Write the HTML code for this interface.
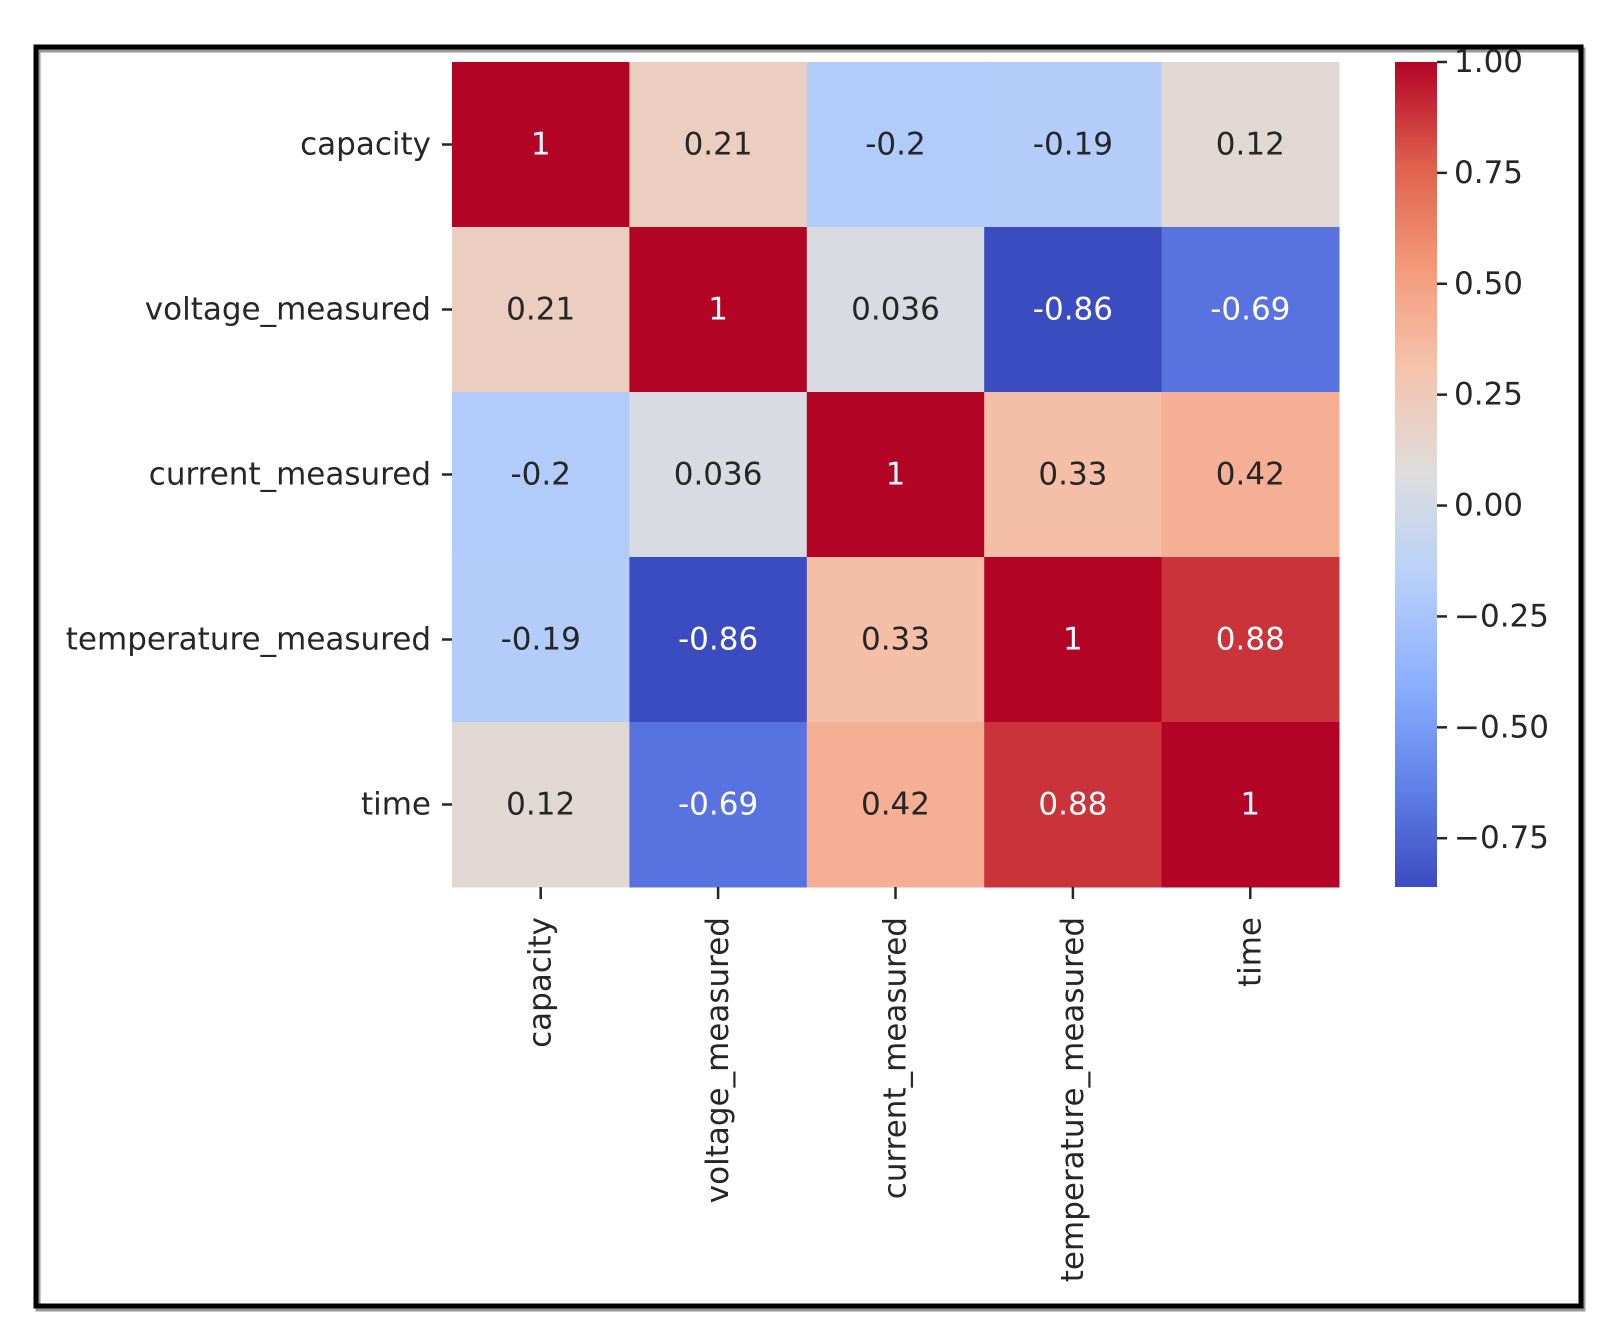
<!DOCTYPE html>
<html>
<head>
<meta charset="utf-8">
<style>
  html, body { margin:0; padding:0; background:#fff; }
  svg { display:block; }
  text { font-family: "DejaVu Sans", "Liberation Sans", sans-serif; }
</style>
</head>
<body>
<svg id="chart" width="1612" height="1341" viewBox="0 0 1612 1341" xmlns="http://www.w3.org/2000/svg">
  <defs>
    <linearGradient id="cbgrad" x1="0" y1="1" x2="0" y2="0"></linearGradient>
  </defs>
  <rect x="38" y="50" width="1545" height="1259" fill="none" stroke="#999" stroke-width="5"/>
  <rect x="36" y="47" width="1545" height="1259" fill="none" stroke="#000" stroke-width="5"/>
  <g id="cells"></g>
  <g id="labels"></g>
  <g id="cbar"></g>
</svg>
<script>
const categories = ["capacity", "voltage_measured", "current_measured", "temperature_measured", "time"];
const row0 = [1, 0.21, -0.2, -0.19, 0.12];
const row1 = [0.21, 1, 0.036, -0.86, -0.69];
const row2 = [-0.2, 0.036, 1, 0.33, 0.42];
const row3 = [-0.19, -0.86, 0.33, 1, 0.88];
const row4 = [0.12, -0.69, 0.42, 0.88, 1];
const matrix = [row0, row1, row2, row3, row4];
const cbarTicks = [1.0, 0.75, 0.5, 0.25, 0, -0.25, -0.5, -0.75];
const cbarTickLabels = ["1.00", "0.75", "0.50", "0.25", "0.00", "\u22120.25", "\u22120.50", "\u22120.75"];
const vmin = -0.86, vmax = 1.0;

const NS = "http://www.w3.org/2000/svg";
const L = 452, R = 1339, T = 62, B = 887;
const FS = 31;
const n = categories.length;
const cw = (R - L) / n, ch = (B - T) / n;
const xPos = i => L + i * cw;
const yPos = i => T + i * ch;
const CB_L = 1395, CB_R = 1437;
const cbY = v => T + (vmax - v) / (vmax - vmin) * (B - T);

const cmapStops = [
  [0.0, [59,76,192]], [0.125, [98,130,234]], [0.25, [141,176,254]], [0.375, [184,208,249]],
  [0.5, [221,221,221]], [0.625, [245,196,173]], [0.75, [244,154,123]], [0.875, [222,96,77]], [1.0, [180,4,38]]
];
function cmap(t) {
  t = Math.max(0, Math.min(1, t));
  for (let i = 0; i < cmapStops.length - 1; i++) {
    const [a, ca] = cmapStops[i], [b, cb] = cmapStops[i+1];
    if (t <= b) {
      const f = (t - a) / (b - a);
      return ca.map((c, k) => Math.round(c + f * (cb[k] - c)));
    }
  }
  return cmapStops[cmapStops.length-1][1];
}
const colorOf = v => cmap((v - vmin) / (vmax - vmin));
const rgb = c => `rgb(${c[0]},${c[1]},${c[2]})`;
function lum(c) {
  const f = x => { x /= 255; return x <= 0.03928 ? x / 12.92 : Math.pow((x + 0.055) / 1.055, 2.4); };
  return 0.2126 * f(c[0]) + 0.7152 * f(c[1]) + 0.0722 * f(c[2]);
}
function mk(tag, attrs, parent) {
  const e = document.createElementNS(NS, tag);
  for (const k in attrs) e.setAttribute(k, attrs[k]);
  parent.appendChild(e);
  return e;
}
const cells = document.getElementById("cells");
const labels = document.getElementById("labels");
const cbar = document.getElementById("cbar");

matrix.forEach((row, r) => {
  row.forEach((v, c) => {
    const col = colorOf(v);
    const rect = mk("rect", {x: xPos(c), y: yPos(r), width: cw + 0.5, height: ch + 0.5, fill: rgb(col)}, cells);
    
    
    const t = mk("text", {x: xPos(c) + cw/2, y: yPos(r) + ch/2, "text-anchor": "middle", "dominant-baseline": "central", "font-size": FS, fill: lum(col) < 0.408 ? "#ffffff" : "#262626"}, cells);
    t.textContent = String(v);
    
    
  });
});

categories.forEach((name, i) => {
  const cy = yPos(i) + ch/2;
  const tk = mk("line", {x1: 442, x2: 452, y1: cy, y2: cy, stroke: "#262626", "stroke-width": 2.5}, labels);
  
  
  const t = mk("text", {x: 431, y: cy, "text-anchor": "end", "dominant-baseline": "central", "font-size": FS, fill: "#262626"}, labels);
  t.textContent = name;
  
  

  const cx = xPos(i) + cw/2;
  const tk2 = mk("line", {x1: cx, x2: cx, y1: 887, y2: 899, stroke: "#262626", "stroke-width": 2.5}, labels);
  
  
  const t2 = mk("text", {x: 0, y: 0, transform: `translate(${cx},917) rotate(-90)`, "text-anchor": "end", "dominant-baseline": "central", "font-size": FS, fill: "#262626"}, labels);
  t2.textContent = name;
  
  
});

const grad = document.getElementById("cbgrad");
for (let i = 0; i <= 40; i++) {
  const t = i / 40;
  mk("stop", {offset: t, "stop-color": rgb(cmap(t))}, grad);
}
const cb = mk("rect", {x: CB_L, y: T, width: CB_R - CB_L, height: B - T, fill: "url(#cbgrad)"}, cbar);


cbarTicks.forEach((v, i) => {
  const y = cbY(v);
  const tk = mk("line", {x1: CB_R, x2: CB_R + 10, y1: y, y2: y, stroke: "#262626", "stroke-width": 2.5}, cbar);
  
  
  const t = mk("text", {x: CB_R + 17, y: y, "dominant-baseline": "central", "font-size": FS, fill: "#262626"}, cbar);
  t.textContent = cbarTickLabels[i];
  
  
});
</script>
</body>
</html>
